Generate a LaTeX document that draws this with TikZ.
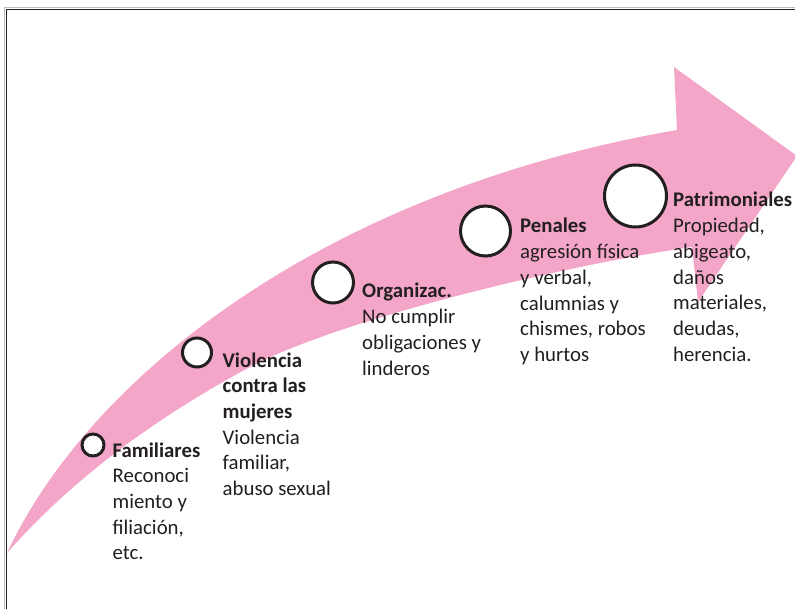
\documentclass[tikz,border=0pt]{standalone}
\usepackage{fontspec}
\setmainfont{Carlito}
\definecolor{pinkc}{RGB}{244,166,200}
\definecolor{inkc}{RGB}{35,31,32}
\begin{document}
\begin{tikzpicture}[x=1pt,y=-1pt,
  stage/.style={circle,draw=inkc,line width=3pt,fill=white,inner sep=0pt},
  label/.style={anchor=base west,inner sep=0pt,text=inkc,
    font=\fontsize{20.8}{25.7}\selectfont}]
\useasboundingbox (0,0) rectangle (795,609);
\clip (0,0) rectangle (795,609);
\fill[white] (0,0) rectangle (795,609);
% frame
\draw[black!25,line width=0.8pt] (4.7,609) -- (4.7,7.3) -- (795,7.3);
\draw[inkc,line width=1.3pt] (6.5,609) -- (6.5,9.5) -- (795,9.5);
% curved arrow
\fill[pinkc] (7,553) .. controls (92,372) and (330,190) .. (677,130)
  -- (674,67) -- (797,156) -- (698,302) -- (692,247)
  .. controls (542,269) and (330,324) .. (250,367)
  .. controls (170,410) and (80,470) .. (7,553) -- cycle;
% circles
\node[stage,minimum size=22pt] (c1) at (93,445) {};
\node[stage,minimum size=29pt] (c2) at (197,352.5) {};
\node[stage,minimum size=41pt] (c3) at (333,282.5) {};
\node[stage,minimum size=50pt] (c4) at (485.5,231) {};
\node[stage,minimum size=62pt] (c5) at (635.5,196) {};
% texts
\node[label] (t1) at (112.5,457) {\begin{tabular}[t]{@{}l@{}}\textbf{Familiares}\\Reconoci\\miento y\\filiación,\\etc.\end{tabular}};
\node[label] (t2) at (222.5,367) {\begin{tabular}[t]{@{}l@{}}\textbf{Violencia}\\\textbf{contra las}\\\textbf{mujeres}\\Violencia\\familiar,\\abuso sexual\end{tabular}};
\node[label] (t3) at (362,298) {\begin{tabular}[t]{@{}l@{}}\textbf{Organizac.}\\No cumplir\\obligaciones y\\linderos\end{tabular}};
\node[label] (t4) at (520,233) {\begin{tabular}[t]{@{}l@{}}\textbf{Penales}\\agresión física\\y verbal,\\calumnias y\\chismes, robos\\y hurtos\end{tabular}};
\node[label] (t5) at (673,207) {\begin{tabular}[t]{@{}l@{}}\textbf{Patrimoniales}\\Propiedad,\\abigeato,\\daños\\materiales,\\deudas,\\herencia.\end{tabular}};
\end{tikzpicture}
\end{document}
